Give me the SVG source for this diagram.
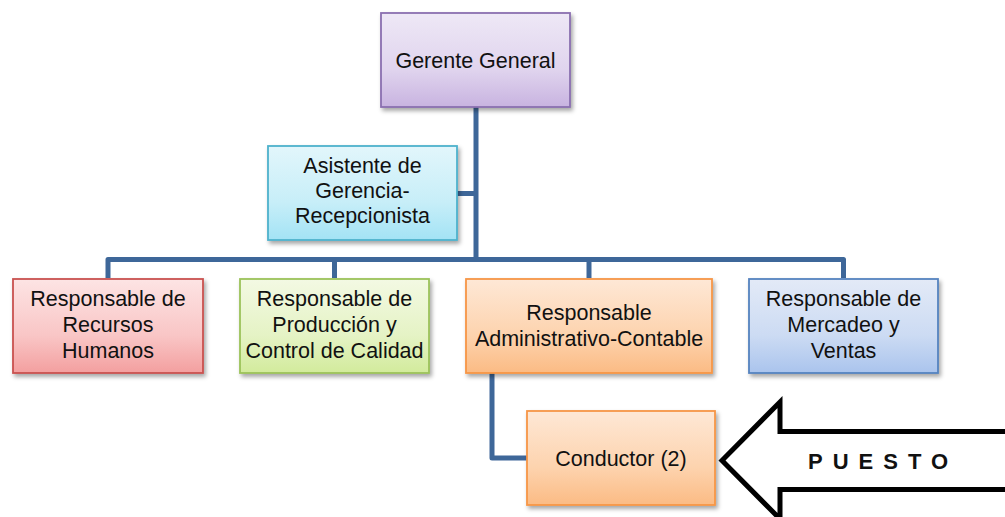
<svg xmlns="http://www.w3.org/2000/svg" width="1005" height="517" viewBox="0 0 1005 517">
  <defs>
    <filter id="shadow" x="-10%" y="-10%" width="125%" height="130%">
      <feDropShadow dx="2" dy="3" stdDeviation="2" flood-color="#000" flood-opacity="0.35"/>
    </filter>
    <linearGradient id="gPurple" x1="0" y1="0" x2="0" y2="1">
      <stop offset="0" stop-color="#eee8f6"/><stop offset="0.6" stop-color="#e0d4ee"/><stop offset="1" stop-color="#c8b3e0"/>
    </linearGradient>
    <linearGradient id="gCyan" x1="0" y1="0" x2="0" y2="1">
      <stop offset="0" stop-color="#e2f6fb"/><stop offset="0.6" stop-color="#c7eef8"/><stop offset="1" stop-color="#a3e3f5"/>
    </linearGradient>
    <linearGradient id="gRed" x1="0" y1="0" x2="0" y2="1">
      <stop offset="0" stop-color="#fde4e4"/><stop offset="0.6" stop-color="#f9c6c6"/><stop offset="1" stop-color="#f39f9f"/>
    </linearGradient>
    <linearGradient id="gGreen" x1="0" y1="0" x2="0" y2="1">
      <stop offset="0" stop-color="#f3f9e3"/><stop offset="0.6" stop-color="#e5f3c5"/><stop offset="1" stop-color="#d2eb9c"/>
    </linearGradient>
    <linearGradient id="gOrange" x1="0" y1="0" x2="0" y2="1">
      <stop offset="0" stop-color="#fee8d6"/><stop offset="0.6" stop-color="#fdd3ae"/><stop offset="1" stop-color="#fbbb84"/>
    </linearGradient>
    <linearGradient id="gBlue" x1="0" y1="0" x2="0" y2="1">
      <stop offset="0" stop-color="#e3eaf7"/><stop offset="0.6" stop-color="#ccdbf3"/><stop offset="1" stop-color="#aac4ed"/>
    </linearGradient>
  </defs>
  <style>
    .box { stroke-width: 1.8; filter: url(#shadow); }
    .lbl { font-family: "Liberation Sans", Arial, sans-serif; font-size: 21.5px; fill: #111; text-anchor: middle; }
    .conn { fill: none; stroke: #3e6799; stroke-width: 5; stroke-linejoin: round; }
    .arrow { fill: #fff; stroke: #000; stroke-width: 5; stroke-linejoin: miter; }
    .tag { font-family: "Liberation Sans", Arial, sans-serif; font-size: 22px; font-weight: bold; letter-spacing: 10px; fill: #111; }
  </style>

  <rect width="1005" height="517" fill="#fff"/>

  <!-- reporting lines -->
  <g id="connectors">
    <path class="conn" d="M476,107 V259.5"/>
    <path class="conn" d="M457,193.5 H476"/>
    <path class="conn" d="M108,278 V259.5 H843.5 V278"/>
    <path class="conn" d="M334.5,259.5 V278"/>
    <path class="conn" d="M589,259.5 V278"/>
    <path class="conn" d="M492,373 V458 H527"/>
  </g>

  <g id="gerente">
    <rect class="box" x="381" y="13" width="189" height="94" fill="url(#gPurple)" stroke="#8a6fb0"/>
    <text class="lbl" x="475.5" y="68">Gerente General</text>
  </g>

  <g id="asistente">
    <rect class="box" x="268" y="146" width="189" height="94" fill="url(#gCyan)" stroke="#4eb2cc"/>
    <text class="lbl" x="362.5" y="173">Asistente de</text>
    <text class="lbl" x="362.5" y="198">Gerencia-</text>
    <text class="lbl" x="362.5" y="223">Recepcionista</text>
  </g>

  <g id="rrhh">
    <rect class="box" x="13" y="279" width="190" height="94" fill="url(#gRed)" stroke="#c9524f"/>
    <text class="lbl" x="108" y="306">Responsable de</text>
    <text class="lbl" x="108" y="332">Recursos</text>
    <text class="lbl" x="108" y="358">Humanos</text>
  </g>

  <g id="produccion">
    <rect class="box" x="240" y="279" width="189" height="94" fill="url(#gGreen)" stroke="#9cc35a"/>
    <text class="lbl" x="334.5" y="306">Responsable de</text>
    <text class="lbl" x="334.5" y="332">Producción y</text>
    <text class="lbl" x="334.5" y="358">Control de Calidad</text>
  </g>

  <g id="administrativo">
    <rect class="box" x="466" y="279" width="246" height="94" fill="url(#gOrange)" stroke="#f79646"/>
    <text class="lbl" x="589" y="320">Responsable</text>
    <text class="lbl" x="589" y="346">Administrativo-Contable</text>
  </g>

  <g id="mercadeo">
    <rect class="box" x="749" y="279" width="189" height="94" fill="url(#gBlue)" stroke="#5583bf"/>
    <text class="lbl" x="843.5" y="306">Responsable de</text>
    <text class="lbl" x="843.5" y="332">Mercadeo y</text>
    <text class="lbl" x="843.5" y="358">Ventas</text>
  </g>

  <g id="conductor">
    <rect class="box" x="527" y="411" width="188" height="94" fill="url(#gOrange)" stroke="#f79646"/>
    <text class="lbl" x="621" y="465.5">Conductor (2)</text>
  </g>

  <g id="puesto">
    <polygon class="arrow" points="722,460.5 780,402 780,431.5 1012,431.5 1012,489.5 780,489.5 780,519"/>
    <text class="tag" x="808" y="468.5">PUESTO</text>
  </g>
</svg>
